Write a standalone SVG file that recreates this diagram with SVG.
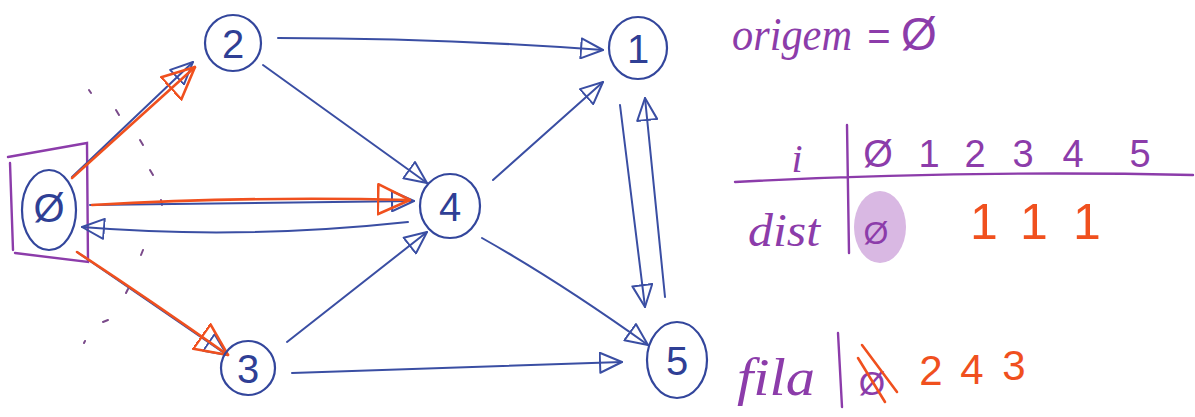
<svg xmlns="http://www.w3.org/2000/svg" width="1195" height="417" viewBox="0 0 1195 417">
<style>
.bg{fill:#ffffff}
.node{fill:none;stroke:#33469c;stroke-width:2.2}
.lbl{font-family:"Liberation Sans",Arial,sans-serif;font-size:40px;fill:#2f3f95;text-anchor:middle}
.eb{fill:none;stroke:#3a4ea3;stroke-width:2;stroke-linecap:round}
.eo{fill:none;stroke:#f0501e;stroke-width:2.6;stroke-linecap:round}
.pur{fill:none;stroke:#8c3caa;stroke-width:2.4;stroke-linecap:round}
.pt{font-family:"Liberation Serif","Times New Roman",serif;font-style:italic;fill:#8c3caa}
.pn{font-family:"Liberation Sans",Arial,sans-serif;fill:#8c3caa;text-anchor:middle}
.on{font-family:"Liberation Sans",Arial,sans-serif;fill:#f0501e;text-anchor:middle}
.dots{fill:none;stroke:#7a4a8a;stroke-width:2;stroke-linecap:round}
</style>
<defs>
<marker id="ab" viewBox="0 0 24 22" refX="23" refY="11" markerWidth="24" markerHeight="22" markerUnits="userSpaceOnUse" orient="auto">
<path d="M1,1 L23,11 L1,21 Z" fill="none" stroke="#3a4ea3" stroke-width="2" stroke-linejoin="round"/>
</marker>
<marker id="ao" viewBox="0 0 34 34" refX="33" refY="17" markerWidth="34" markerHeight="34" markerUnits="userSpaceOnUse" orient="auto">
<path d="M1,2 L33,17 L1,32 Z" fill="none" stroke="#f0501e" stroke-width="2.6" stroke-linejoin="round"/>
</marker>
</defs>
<rect class="bg" x="0" y="0" width="1195" height="417"/>

<g id="highlight-box">
<path class="pur" d="M10,163 L13,250 M8,157 L87,143 L88,262 L15,253" stroke-width="2"/>
</g>

<g id="cut-marks">
<path class="dots" d="M89,90 l2,3 M116,110 l3,5 M140,140 l3,5 M150,170 l3,5 M161,200 l1,5 M143,250 l-2,5 M128,289 l-2,4 M108,320 l-5,2 M85,341 l-1,2"/>
</g>

<g id="connectors">
<path class="eb" d="M72,177 L193,62" marker-end="url(#ab)"/>
<path class="eb" d="M278,38 Q440,38 603,50" marker-end="url(#ab)"/>
<path class="eb" d="M263,65 L427,183" marker-end="url(#ab)"/>
<path class="eb" d="M90,205 L414,201" marker-end="url(#ab)"/>
<path class="eb" d="M408,222 Q240,240 82,227" marker-end="url(#ab)"/>
<path class="eb" d="M77,252 L227,355" marker-end="url(#ab)"/>
<path class="eb" d="M287,342 L427,232" marker-end="url(#ab)"/>
<path class="eb" d="M292,373 Q450,368 622,362" marker-end="url(#ab)"/>
<path class="eb" d="M493,180 L603,82" marker-end="url(#ab)"/>
<path class="eb" d="M482,238 Q560,282 648,345" marker-end="url(#ab)"/>
<path class="eb" d="M620,105 L645,307" marker-end="url(#ab)"/>
<path class="eb" d="M665,297 L645,98" marker-end="url(#ab)"/>
<path class="eo" d="M72,178 L195,67" marker-end="url(#ao)"/>
<path class="eo" d="M92,205 Q250,196 410,200" marker-end="url(#ao)"/>
<path class="eo" d="M77,252 Q150,300 228,355" marker-end="url(#ao)"/>
</g>

<g id="node-0">
<ellipse class="node" cx="49" cy="210" rx="27" ry="40"/>
<text class="lbl" x="49" y="222" font-size="32">Ø</text>
</g>
<g id="node-2">
<circle class="node" cx="233" cy="43" r="28"/>
<text class="lbl" x="233" y="58">2</text>
</g>
<g id="node-3">
<circle class="node" cx="248" cy="368" r="27"/>
<text class="lbl" x="248" y="383">3</text>
</g>
<g id="node-4">
<ellipse class="node" cx="450" cy="206" rx="30" ry="32"/>
<text class="lbl" x="450" y="221">4</text>
</g>
<g id="node-1">
<ellipse class="node" cx="638" cy="48" rx="29" ry="31"/>
<text class="lbl" x="638" y="63">1</text>
</g>
<g id="node-5">
<ellipse class="node" cx="677" cy="360" rx="30" ry="38"/>
<text class="lbl" x="677" y="375">5</text>
</g>

<g id="origem">
<text class="pt" x="732" y="50" font-size="46" textLength="120" lengthAdjust="spacingAndGlyphs">origem</text>
<text class="pn" x="879" y="50" font-size="40">=</text>
<text class="pn" x="919" y="50" font-size="46">Ø</text>
</g>

<g id="dist-table">
<path class="pur" d="M847,125 L849,253 M735,182 Q960,170 1193,175"/>
<text class="pt" x="797" y="172" font-size="40" text-anchor="middle">i</text>
<g class="pn" font-size="38">
<text x="878" y="167">Ø</text>
<text x="929" y="167">1</text>
<text x="975" y="167">2</text>
<text x="1023" y="167">3</text>
<text x="1073" y="167">4</text>
<text x="1140" y="167">5</text>
</g>
<text class="pt" x="748" y="246" font-size="46" textLength="72" lengthAdjust="spacingAndGlyphs">dist</text>
<ellipse cx="880" cy="227" rx="26" ry="36" fill="#d9b8e3"/>
<text class="pn" x="876" y="244" font-size="32">Ø</text>
<g class="on" font-size="50">
<text x="984" y="239">1</text>
<text x="1034" y="239">1</text>
<text x="1087" y="239">1</text>
</g>
</g>

<g id="fila">
<text class="pt" x="737" y="395" font-size="52" textLength="78" lengthAdjust="spacingAndGlyphs">fila</text>
<path class="pur" d="M838,333 L842,407"/>
<text class="pn" x="872" y="395" font-size="34">Ø</text>
<path class="eo" d="M862,345 L897,392 M858,358 L885,402"/>
<g class="on" font-size="42">
<text x="931" y="385">2</text>
<text x="972" y="384">4</text>
<text x="1014" y="380">3</text>
</g>
</g>
</svg>
